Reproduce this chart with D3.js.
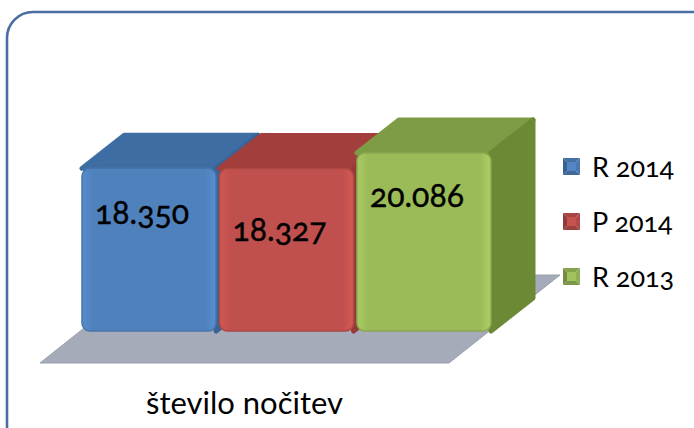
<!DOCTYPE html>
<html>
<head>
<meta charset="utf-8">
<script src="https://cdn.jsdelivr.net/npm/d3@7"></script>
<style>
  html, body { margin: 0; padding: 0; background: #fff; }
  svg text { font-family: Lato, "Open Sans", sans-serif; font-variant-numeric: oldstyle-nums; fill: #000; }
</style>
</head>
<body>
<svg width="694" height="428"></svg>
<script>
var series = ["R 2014", "P 2014", "R 2013"];
var values = [18350, 18327, 20086];
var valueLabels = ["18.350", "18.327", "20.086"];
var category = "število nočitev";

var front = ["#4f81bd", "#c0504d", "#9bbb59"],
    top3d = ["#3e6da3", "#a23f3c", "#7e9b45"],
    side = ["#3a6396", "#963a37", "#6c8a36"];

var svg = d3.select("svg");

// outer rounded frame (runs off the right and bottom edge)
svg.append("rect")
    .attr("x", 7).attr("y", 12)
    .attr("width", 720).attr("height", 440)
    .attr("rx", 26)
    .attr("fill", "none")
    .attr("stroke", "#4a6ea3")
    .attr("stroke-width", 2.6);

var x = d3.scaleBand().domain(series).range([82, 491]).paddingInner(0.025),
    y = d3.scaleLinear().domain([0, 22000]).range([331, 136]);

// depth vectors: gap in front of bars, bar depth, gap behind
var gapF = [42, -32], depth = [42, -33], gapB = [27, -23];

var x0 = x.range()[0], x1 = x.range()[1], base = y(0);
var floorPts = [
  [x0 - gapF[0], base - gapF[1]],
  [x1 - gapF[0], base - gapF[1]],
  [x1 + depth[0] + gapB[0], base + depth[1] + gapB[1]],
  [x0 + depth[0] + gapB[0], base + depth[1] + gapB[1]]
];
svg.append("polygon")
    .attr("points", floorPts.map(function(p) { return p.join(","); }).join(" "))
    .attr("fill", "#a6abba")
    .attr("stroke", "#9a9fae")
    .attr("stroke-width", 1);

var defs = svg.append("defs");
front.forEach(function(c, i) {
  var g = defs.append("linearGradient").attr("id", "fg" + i)
      .attr("x1", 0).attr("y1", 0).attr("x2", 1).attr("y2", 0);
  g.append("stop").attr("offset", "0").attr("stop-color", d3.color(c).brighter(0.25));
  g.append("stop").attr("offset", "0.08").attr("stop-color", c);
  g.append("stop").attr("offset", "0.92").attr("stop-color", c);
  g.append("stop").attr("offset", "1").attr("stop-color", d3.color(c).brighter(0.3));
});

var bars = svg.selectAll(".bar")
    .data(values)
  .enter().append("g")
    .attr("class", "bar");

bars.append("polygon")
    .attr("points", function(d, i) {
      var l = x(series[i]), r = l + x.bandwidth(), t = y(d);
      return [[l, t], [r, t], [r + depth[0], t + depth[1]], [l + depth[0], t + depth[1]]]
        .map(function(p) { return p.join(","); }).join(" ");
    })
    .attr("fill", function(d, i) { return top3d[i]; })
    .attr("stroke-linejoin", "round")
    .attr("stroke", function(d, i) { return top3d[i]; })
    .attr("stroke-width", 5);

bars.append("polygon")
    .attr("points", function(d, i) {
      var r = x(series[i]) + x.bandwidth(), t = y(d);
      return [[r, t], [r + depth[0], t + depth[1]], [r + depth[0], base + depth[1]], [r, base]]
        .map(function(p) { return p.join(","); }).join(" ");
    })
    .attr("fill", function(d, i) { return side[i]; })
    .attr("stroke-linejoin", "round")
    .attr("stroke", function(d, i) { return side[i]; })
    .attr("stroke-width", 5);

bars.append("rect")
    .attr("x", function(d, i) { return x(series[i]); })
    .attr("y", function(d) { return y(d); })
    .attr("width", x.bandwidth())
    .attr("height", function(d) { return base - y(d); })
    .attr("rx", 8)
    .attr("fill", function(d, i) { return "url(#fg" + i + ")"; })
    .attr("stroke", function(d, i) { return d3.color(front[i]).darker(0.3); })
    .attr("stroke-width", 1.5);

// value labels sit at slightly different depths in the original
var labelDy = [56, 72, 54];
bars.append("text")
    .attr("x", function(d, i) { return x(series[i]) + x.bandwidth() / 2 - 7; })
    .attr("y", function(d, i) { return y(d) + labelDy[i]; })
    .attr("text-anchor", "middle")
    .style("font-size", "32px")
    .style("stroke", "#000")
    .style("stroke-width", 0.4)
    .text(function(d, i) { return valueLabels[i]; });

// category label under the floor
svg.append("text")
    .attr("x", (floorPts[0][0] + floorPts[1][0]) / 2)
    .attr("y", 414)
    .attr("text-anchor", "middle")
    .style("font-size", "31px")
    .text(category);

// legend
var legend = svg.selectAll(".legend")
    .data(series)
  .enter().append("g")
    .attr("class", "legend")
    .attr("transform", function(d, i) { return "translate(563," + (158 + i * 55) + ")"; });

var s = 17;
legend.each(function(d, i) {
  var g = d3.select(this), c = d3.color(front[i]);
  var tris = [
    [[0, 0], [s, 0], [s / 2, s / 2], c.darker(0.4)],
    [[s, 0], [s, s], [s / 2, s / 2], c.darker(0.2)],
    [[s, s], [0, s], [s / 2, s / 2], c.darker(0.6)],
    [[0, s], [0, 0], [s / 2, s / 2], c.darker(0.8)]
  ];
  tris.forEach(function(t) {
    g.append("polygon")
        .attr("points", t.slice(0, 3).map(function(p) { return p.join(","); }).join(" "))
        .attr("fill", t[3]);
  });
  g.append("rect").attr("x", 4).attr("y", 4).attr("width", s - 8).attr("height", s - 8)
      .attr("fill", c.brighter(0.1));
});

legend.append("text")
    .attr("x", 29)
    .attr("y", 19)
    .style("font-size", "27px")
    .text(function(d) { return d; });
</script>
</body>
</html>
